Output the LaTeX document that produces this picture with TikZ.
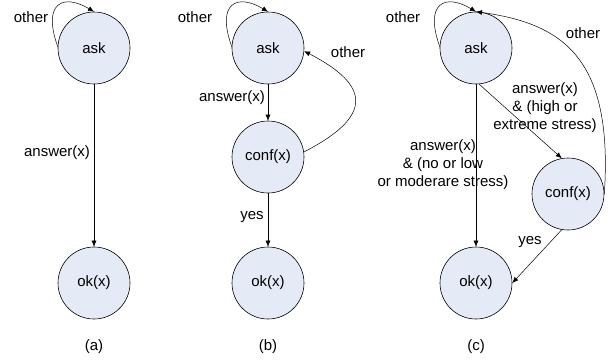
\documentclass[tikz,border=0pt]{standalone}
\usepackage{fontspec}
\setmainfont{Liberation Sans}
\usetikzlibrary{arrows.meta}
\definecolor{stfill}{RGB}{229,235,246}
\tikzset{
	stnode/.style={circle, draw, fill=stfill, minimum size=72pt, inner sep=0pt, line width=0.6pt},
	txt/.style={inner sep=0pt, align=center},
	arr/.style={-{Latex[length=6pt,width=5pt]}, line width=0.5pt}
}
\begin{document}
\begin{tikzpicture}[x=1pt, y=1pt, font=\fontsize{15}{18}\selectfont]
			\useasboundingbox (0,0) rectangle (615,360);
			% (a)
			\node[stnode] (askA) at (94,312) {ask};
			\node[stnode] (okA) at (94,77) {ok(x)};
			\node[txt] (otherA) at (31,343) {other};
			\node[txt] (answerA) at (57,207) {answer(x)};
			\node[txt] (capA) at (94,13) {(a)};
			\draw[arr] (askA.178) .. controls +(-16,45) and +(-30,18) .. (askA.north);
			\draw[arr] (askA) -- (okA);
			% (b)
			\node[stnode] (askB) at (268,312) {ask};
			\node[stnode] (confB) at (268,203) {conf(x)};
			\node[stnode] (okB) at (268,77) {ok(x)};
			\node[txt] (otherB) at (195,343) {other};
			\node[txt] (otherBb) at (348,308) {other};
			\node[txt] (answerB) at (232,262) {answer(x)};
			\node[txt] (yesB) at (252,143) {yes};
			\node[txt] (capB) at (268,13) {(b)};
			\draw[arr] (askB.178) .. controls +(-16,45) and +(-30,18) .. (askB.north);
			\draw[arr] (askB) -- (confB);
			\draw[arr] (confB) -- (okB);
			\draw[arr] (confB.8) .. controls +(68,35) and +(68,-35) .. (askB.-5);
			% (c)
			\node[stnode] (askC) at (476,312) {ask};
			\node[stnode] (confC) at (568,166) {conf(x)};
			\node[stnode] (okC) at (476,77) {ok(x)};
			\node[txt] (otherC) at (403,343) {other};
			\node[txt] (otherCb) at (583,327) {other};
			\node[txt] (answerC) at (443,195) {answer(x)\\\& (no or low\\or moderare stress)};
			\node[txt] (answerCb) at (545,252) {answer(x)\\\& (high or\\extreme stress)};
			\node[txt] (yesC) at (530,118) {yes};
			\node[txt] (capC) at (476,13) {(c)};
			\draw[arr] (askC.178) .. controls +(-16,45) and +(-30,18) .. (askC.north);
			\draw[arr] (askC) -- (okC);
			\draw[arr] (askC.-85) -- (confC.100);
			\draw[arr] (confC.-100) -- (okC.east);
			\draw[arr] (confC.east) .. controls +(9,135) and +(88,-12) .. (askC.north);
		\end{tikzpicture}
\end{document}
